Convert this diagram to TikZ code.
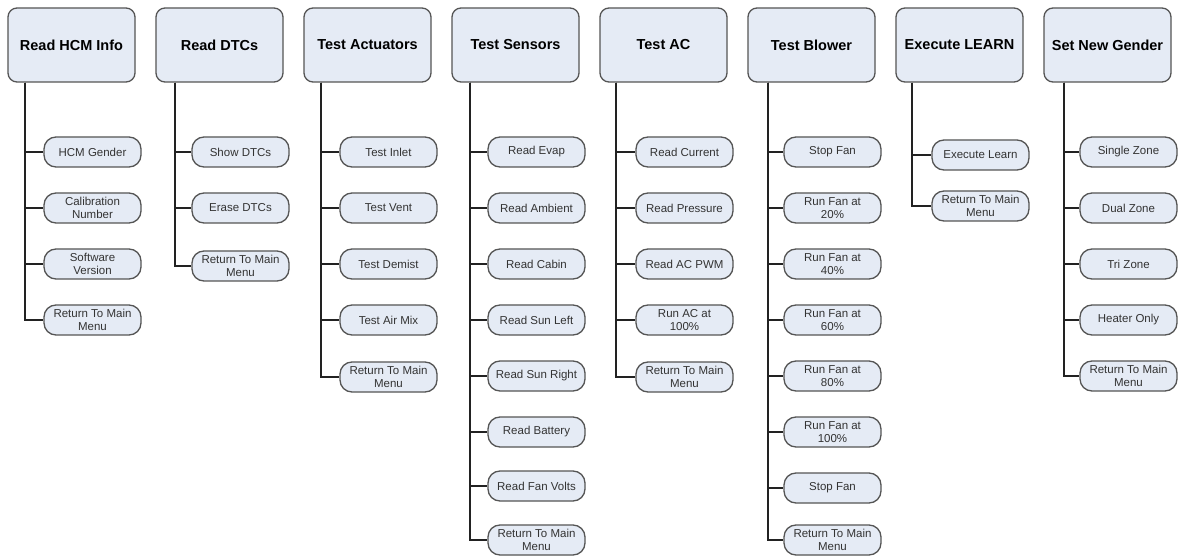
\documentclass[tikz,border=0pt]{standalone}
\usepackage{fontspec}
\setmainfont{Liberation Sans}
\definecolor{boxfill}{HTML}{E5EBF5}
\definecolor{boxline}{HTML}{555555}
\definecolor{itemtext}{HTML}{333333}
\definecolor{linkcol}{HTML}{222222}
\tikzset{
  topbox/.style={draw=boxline, line width=1.3pt, fill=boxfill, rounded corners=9pt,
    minimum width=127pt, minimum height=74pt, inner sep=0pt,
    font=\fontsize{14.5}{16}\selectfont\bfseries},
  itembox/.style={draw=boxline, line width=1.3pt, fill=boxfill, rounded corners=12pt,
    minimum width=97pt, minimum height=30pt, inner sep=0pt, align=center,
    text=itemtext, font=\fontsize{11.5}{12.5}\selectfont},
  link/.style={draw=linkcol, line width=1.9pt}
}
\begin{document}
\begin{tikzpicture}[x=1pt,y=-1pt]
\useasboundingbox[fill=white] (0,0) rectangle (1179,556);
% top boxes
\node[topbox] (t1) at (71.5,45) {Read HCM Info};
\node[topbox] (t2) at (219.5,45) {Read DTCs};
\node[topbox] (t3) at (367.5,45) {Test Actuators};
\node[topbox] (t4) at (515.5,45) {Test Sensors};
\node[topbox] (t5) at (663.5,45) {Test AC};
\node[topbox] (t6) at (811.5,45) {Test Blower};
\node[topbox] (t7) at (959.5,45) {Execute LEARN};
\node[topbox] (t8) at (1107.5,45) {Set New Gender};
% column 1
\node[itembox] (a1) at (92.5,152) {HCM Gender};
\node[itembox] (a2) at (92.5,208) {Calibration\\Number};
\node[itembox] (a3) at (92.5,264) {Software\\Version};
\node[itembox] (a4) at (92.5,320) {Return To Main\\Menu};
% column 2
\node[itembox] (b1) at (240.5,152) {Show DTCs};
\node[itembox] (b2) at (240.5,208) {Erase DTCs};
\node[itembox] (b3) at (240.5,266) {Return To Main\\Menu};
% column 3
\node[itembox] (c1) at (388.5,152) {Test Inlet};
\node[itembox] (c2) at (388.5,208) {Test Vent};
\node[itembox] (c3) at (388.5,264) {Test Demist};
\node[itembox] (c4) at (388.5,320) {Test Air Mix};
\node[itembox] (c5) at (388.5,377) {Return To Main\\Menu};
% column 4
\node[itembox] (d1) at (536.5,152) {Read Evap};
\node[itembox] (d2) at (536.5,208) {Read Ambient};
\node[itembox] (d3) at (536.5,264) {Read Cabin};
\node[itembox] (d4) at (536.5,320) {Read Sun Left};
\node[itembox] (d5) at (536.5,376) {Read Sun Right};
\node[itembox] (d6) at (536.5,432) {Read Battery};
\node[itembox] (d7) at (536.5,486) {Read Fan Volts};
\node[itembox] (d8) at (536.5,540) {Return To Main\\Menu};
% column 5
\node[itembox] (e1) at (684.5,152) {Read Current};
\node[itembox] (e2) at (684.5,208) {Read Pressure};
\node[itembox] (e3) at (684.5,264) {Read AC PWM};
\node[itembox] (e4) at (684.5,320) {Run AC at\\100\%};
\node[itembox] (e5) at (684.5,377) {Return To Main\\Menu};
% column 6
\node[itembox] (f1) at (832.5,152) {Stop Fan};
\node[itembox] (f2) at (832.5,208) {Run Fan at\\20\%};
\node[itembox] (f3) at (832.5,264) {Run Fan at\\40\%};
\node[itembox] (f4) at (832.5,320) {Run Fan at\\60\%};
\node[itembox] (f5) at (832.5,376) {Run Fan at\\80\%};
\node[itembox] (f6) at (832.5,432) {Run Fan at\\100\%};
\node[itembox] (f7) at (832.5,488) {Stop Fan};
\node[itembox] (f8) at (832.5,540) {Return To Main\\Menu};
% column 7
\node[itembox] (g1) at (980.5,155) {Execute Learn};
\node[itembox] (g2) at (980.5,206) {Return To Main\\Menu};
% column 8
\node[itembox] (h1) at (1128.5,152) {Single Zone};
\node[itembox] (h2) at (1128.5,208) {Dual Zone};
\node[itembox] (h3) at (1128.5,264) {Tri Zone};
\node[itembox] (h4) at (1128.5,320) {Heater Only};
\node[itembox] (h5) at (1128.5,376) {Return To Main\\Menu};
% connectors
\foreach \c in {a1,a2,a3,a4} \draw[link] ([xshift=18pt]t1.south west) |- (\c.west);
\foreach \c in {b1,b2,b3} \draw[link] ([xshift=20pt]t2.south west) |- (\c.west);
\foreach \c in {c1,c2,c3,c4,c5} \draw[link] ([xshift=18pt]t3.south west) |- (\c.west);
\foreach \c in {d1,d2,d3,d4,d5,d6,d7,d8} \draw[link] ([xshift=19pt]t4.south west) |- (\c.west);
\foreach \c in {e1,e2,e3,e4,e5} \draw[link] ([xshift=17pt]t5.south west) |- (\c.west);
\foreach \c in {f1,f2,f3,f4,f5,f6,f7,f8} \draw[link] ([xshift=21pt]t6.south west) |- (\c.west);
\foreach \c in {g1,g2} \draw[link] ([xshift=17pt]t7.south west) |- (\c.west);
\foreach \c in {h1,h2,h3,h4,h5} \draw[link] ([xshift=21pt]t8.south west) |- (\c.west);
\end{tikzpicture}
\end{document}
